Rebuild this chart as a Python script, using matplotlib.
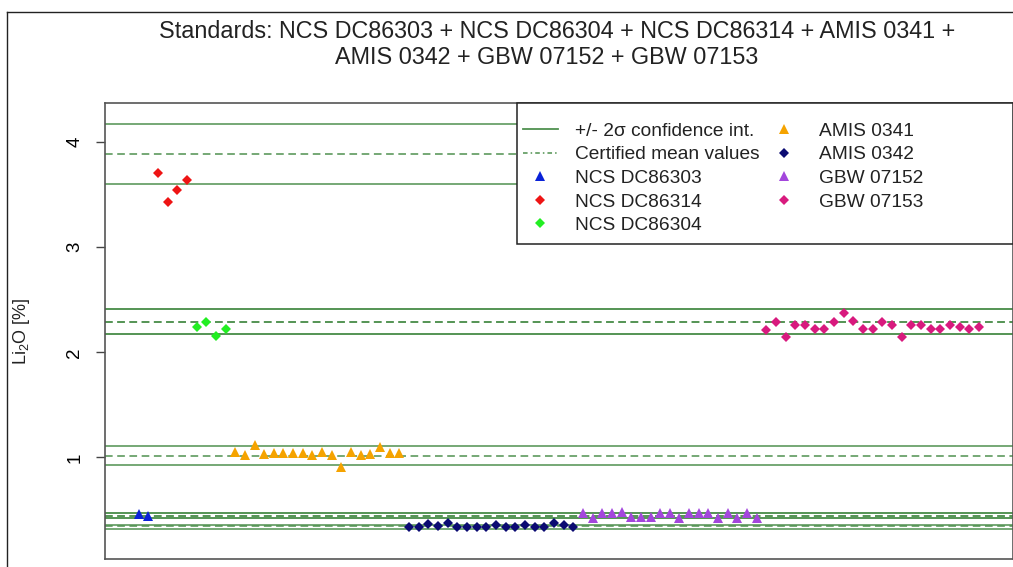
import matplotlib.pyplot as plt
from matplotlib.lines import Line2D
from matplotlib.patches import Rectangle
import numpy as np

plt.rcParams['font.family'] = ['Liberation Sans', 'DejaVu Sans']
plt.rcParams['mathtext.fontset'] = 'custom'
plt.rcParams['mathtext.rm'] = 'Liberation Sans'
plt.rcParams['mathtext.it'] = 'Liberation Sans:italic'

# standards in plotting order
standards = ["NCS DC86303", "NCS DC86314", "NCS DC86304", "AMIS 0341",
             "AMIS 0342", "GBW 07152", "GBW 07153"]
colors = ["#0a22d8", "#ee1414", "#22ee22", "#f5a300", "#0b0b72", "#a346dc", "#d81a7e"]
markers = ["^", "D", "D", "^", "D", "^", "D"]

# certified mean and +/- 2 sigma limits, Li2O %
cert_mean = [0.447, 3.885, 2.285, 1.014, 0.347, 0.447, 2.285]
ci_upper = [0.468, 4.167, 2.410, 1.109, 0.361, 0.468, 2.410]
ci_lower = [0.422, 3.600, 2.171, 0.929, 0.318, 0.422, 2.171]

# measured values per standard
ncs_dc86303 = [0.465, 0.440]
ncs_dc86314 = [3.707, 3.431, 3.546, 3.638]
ncs_dc86304 = [2.238, 2.291, 2.158, 2.219]
amis_0341 = [1.049, 1.024, 1.119, 1.033, 1.046, 1.040, 1.046, 1.040, 1.024,
             1.055, 1.027, 0.913, 1.052, 1.027, 1.030, 1.097, 1.043, 1.043]
amis_0342 = [0.342, 0.342, 0.368, 0.349, 0.380, 0.342, 0.342, 0.336, 0.342,
             0.358, 0.342, 0.342, 0.358, 0.342, 0.342, 0.380, 0.355, 0.342]
gbw_07152 = [0.470, 0.422, 0.470, 0.470, 0.485, 0.437, 0.437, 0.431, 0.470,
             0.470, 0.422, 0.470, 0.470, 0.470, 0.422, 0.470, 0.422, 0.470, 0.422]
gbw_07153 = [2.212, 2.285, 2.148, 2.260, 2.260, 2.219, 2.219, 2.285, 2.371,
             2.298, 2.219, 2.219, 2.285, 2.260, 2.148, 2.260, 2.260, 2.219,
             2.219, 2.260, 2.243, 2.219, 2.238]
measured = [ncs_dc86303, ncs_dc86314, ncs_dc86304, amis_0341,
            amis_0342, gbw_07152, gbw_07153]

W, H = 1013, 567
fig = plt.figure(figsize=(W / 100, H / 100), dpi=100)
ax = fig.add_axes([105 / W, (H - 559) / H, (1012.5 - 105) / W, (559 - 103) / H])

line_col = "#4f914f"
for lo, mu, hi in zip(ci_lower, cert_mean, ci_upper):
    ax.axhline(hi, color=line_col, lw=1.1, zorder=1)
    ax.axhline(lo, color=line_col, lw=1.1, zorder=1)
    ax.axhline(mu, color=line_col, lw=1.1, dashes=(5, 3), zorder=1)

start = 1
for vals, col, mk in zip(measured, colors, markers):
    idx = np.arange(start, start + len(vals))
    ms = 7 if mk == "^" else 5
    ax.plot(idx, vals, ls="none", marker=mk, color=col, ms=ms, mew=0, zorder=3)
    start += len(vals)

ax.set_xlim(-2.48, 91.48)
ax.set_ylim(0.035, 4.37)
ax.set_xticks([])
ax.set_yticks([1, 2, 3, 4])
ax.tick_params(axis="y", length=6.5, width=1, color="#444444", pad=9, labelsize=13.5)
for lab in ax.get_yticklabels():
    lab.set_rotation(90)
    lab.set_va("center")
for s in ax.spines.values():
    s.set_color("#555555")
    s.set_linewidth(1.2)

# legend box drawn over the lines, as in base R
x0, x1, y0, y1 = 517, 1013, 103, 244
ax.add_patch(Rectangle((x0 / W, (H - y1) / H), (x1 - x0) / W, (y1 - y0) / H,
                       transform=fig.transFigure, facecolor="white",
                       edgecolor="#222222", lw=1.1, zorder=5, clip_on=False))

handles = [Line2D([], [], color=line_col, lw=1.3),
           Line2D([], [], color=line_col, lw=1.1, dashes=(3, 2, 1, 2))]
for col, mk in zip(colors, markers):
    ms = 7 if mk == "^" else 5
    handles.append(Line2D([], [], ls="none", marker=mk, color=col, ms=ms, mew=0))
labels = ["+/- 2\u03c3 confidence int.", "Certified mean values"] + standards
leg = ax.legend(handles, labels, ncol=2, loc="upper left", frameon=False,
                bbox_to_anchor=(523 / W, (H - 122.5) / H), bbox_transform=fig.transFigure,
                borderpad=0, borderaxespad=0, fontsize=13.8, handlelength=1.8,
                handletextpad=0.9, columnspacing=0.4, labelspacing=0.32)
leg.set_zorder(6)
for t in leg.get_texts():
    t.set_color("#222222")

fig.text(556.7 / W, 1 - 31 / H, "Standards: NCS DC86303 + NCS DC86304 + NCS DC86314 + AMIS 0341 +",
         ha="center", va="center", fontsize=16.8, color="#222222")
fig.text(546.7 / W, 1 - 57.5 / H, "AMIS 0342 + GBW 07152 + GBW 07153",
         ha="center", va="center", fontsize=16.8, color="#222222")
fig.text(21 / W, 1 - 331 / H, "Li$_2$O [%]", rotation=90, ha="center", va="center",
         fontsize=13, color="#222222")

# outer frame of the screenshot
fig.add_artist(Line2D([7 / W, 7 / W], [0, 1 - 12 / H], transform=fig.transFigure,
                      color="#222222", lw=1))
fig.add_artist(Line2D([7 / W, 1], [1 - 12 / H, 1 - 12 / H], transform=fig.transFigure,
                      color="#222222", lw=1))

fig.savefig("out.png", dpi=100)
